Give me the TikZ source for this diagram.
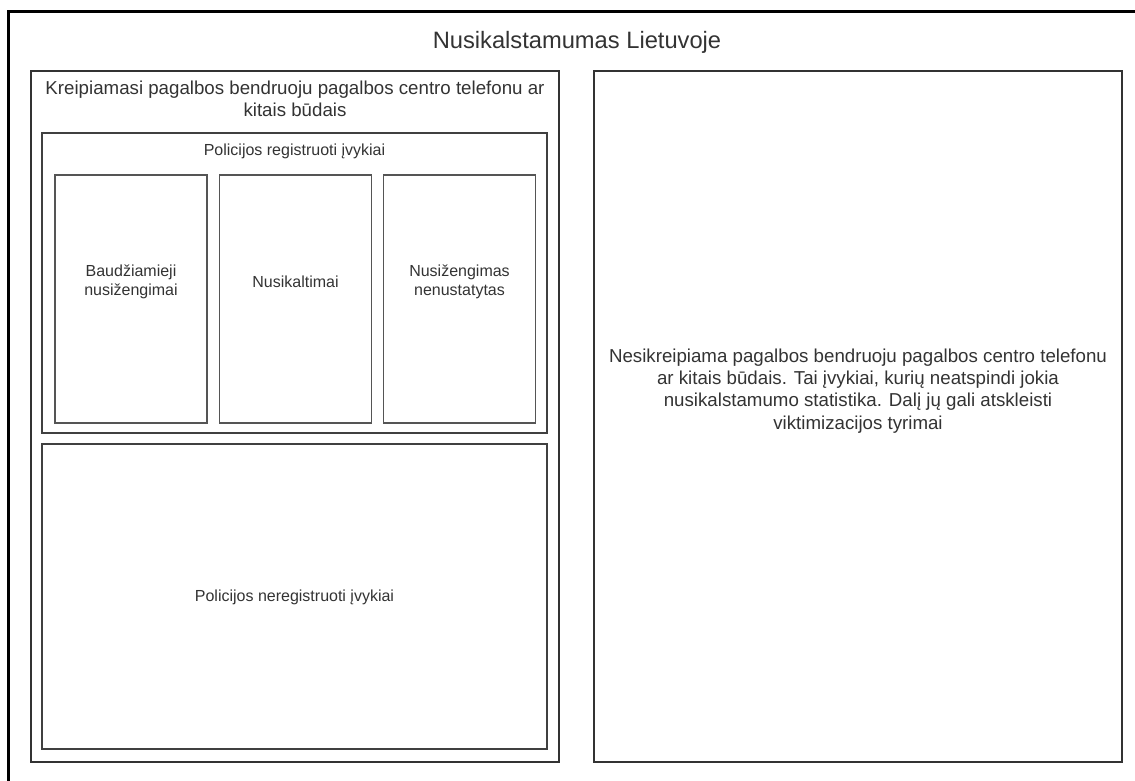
\documentclass[tikz,border=0pt]{standalone}
\usepackage{fontspec}
\setmainfont{Liberation Sans}
\definecolor{txt}{HTML}{333333}
\definecolor{bigline}{HTML}{333333}
\definecolor{midline}{HTML}{404040}
\definecolor{smallline}{HTML}{555555}
\begin{document}
\begin{tikzpicture}[x=1pt,y=-1pt,
  frame/.style={draw=black,line width=3pt},
  bigbox/.style={draw=bigline,line width=2.4pt,inner sep=0pt,minimum width=528pt,minimum height=691pt},
  midbox/.style={draw=midline,line width=1.8pt,inner sep=0pt,minimum width=505pt},
  smallbox/.style={draw=smallline,line width=1.4pt,inner sep=0pt,minimum width=152pt,minimum height=248pt},
  tsmall/.style={text=txt,align=center,inner sep=0pt,font=\fontsize{16}{19.2}\selectfont},
  tmed/.style={text=txt,align=center,inner sep=0pt,font=\fontsize{18.7}{22.2}\selectfont},
  ttitle/.style={text=txt,align=center,inner sep=0pt,font=\fontsize{23.7}{28}\selectfont}]
\useasboundingbox (0,0) rectangle (1135,780);
\clip (0,0) rectangle (1135,780);
\fill[white] (0,0) rectangle (1135,780);
\draw[frame] (8,11) rectangle (1160,800);
\node[ttitle] (title) at (577,42) {Nusikalstamumas Lietuvoje};
\node[bigbox] (left) at (295,416.5) {};
\node[bigbox] (right) at (858,416.5) {};
\node[tmed] (lefttxt) at (295,98.5) {Kreipiamasi pagalbos bendruoju pagalbos centro telefonu ar\\kitais būdais};
\node[midbox,minimum height=300pt] (reg) at (294.5,283) {};
\node[tsmall] (regtxt) at (294.5,151) {Policijos registruoti įvykiai};
\node[smallbox] (b1) at (131,299) {};
\node[smallbox] (b2) at (295.5,299) {};
\node[smallbox] (b3) at (459.5,299) {};
\node[tsmall] (b1txt) at (131,282) {Baudžiamieji\\nusižengimai};
\node[tsmall] (b2txt) at (295.5,282) {Nusikaltimai};
\node[tsmall] (b3txt) at (459.5,282) {Nusižengimas\\nenustatytas};
\node[midbox,minimum height=305pt] (nereg) at (294.5,596.5) {};
\node[tsmall] (neregtxt) at (294.5,597) {Policijos neregistruoti įvykiai};
\node[tmed] (righttxt) at (858,391) {Nesikreipiama pagalbos bendruoju pagalbos centro telefonu\\ar kitais būdais. Tai įvykiai, kurių neatspindi jokia\\nusikalstamumo statistika. Dalį jų gali atskleisti\\viktimizacijos tyrimai};
\end{tikzpicture}
\end{document}
